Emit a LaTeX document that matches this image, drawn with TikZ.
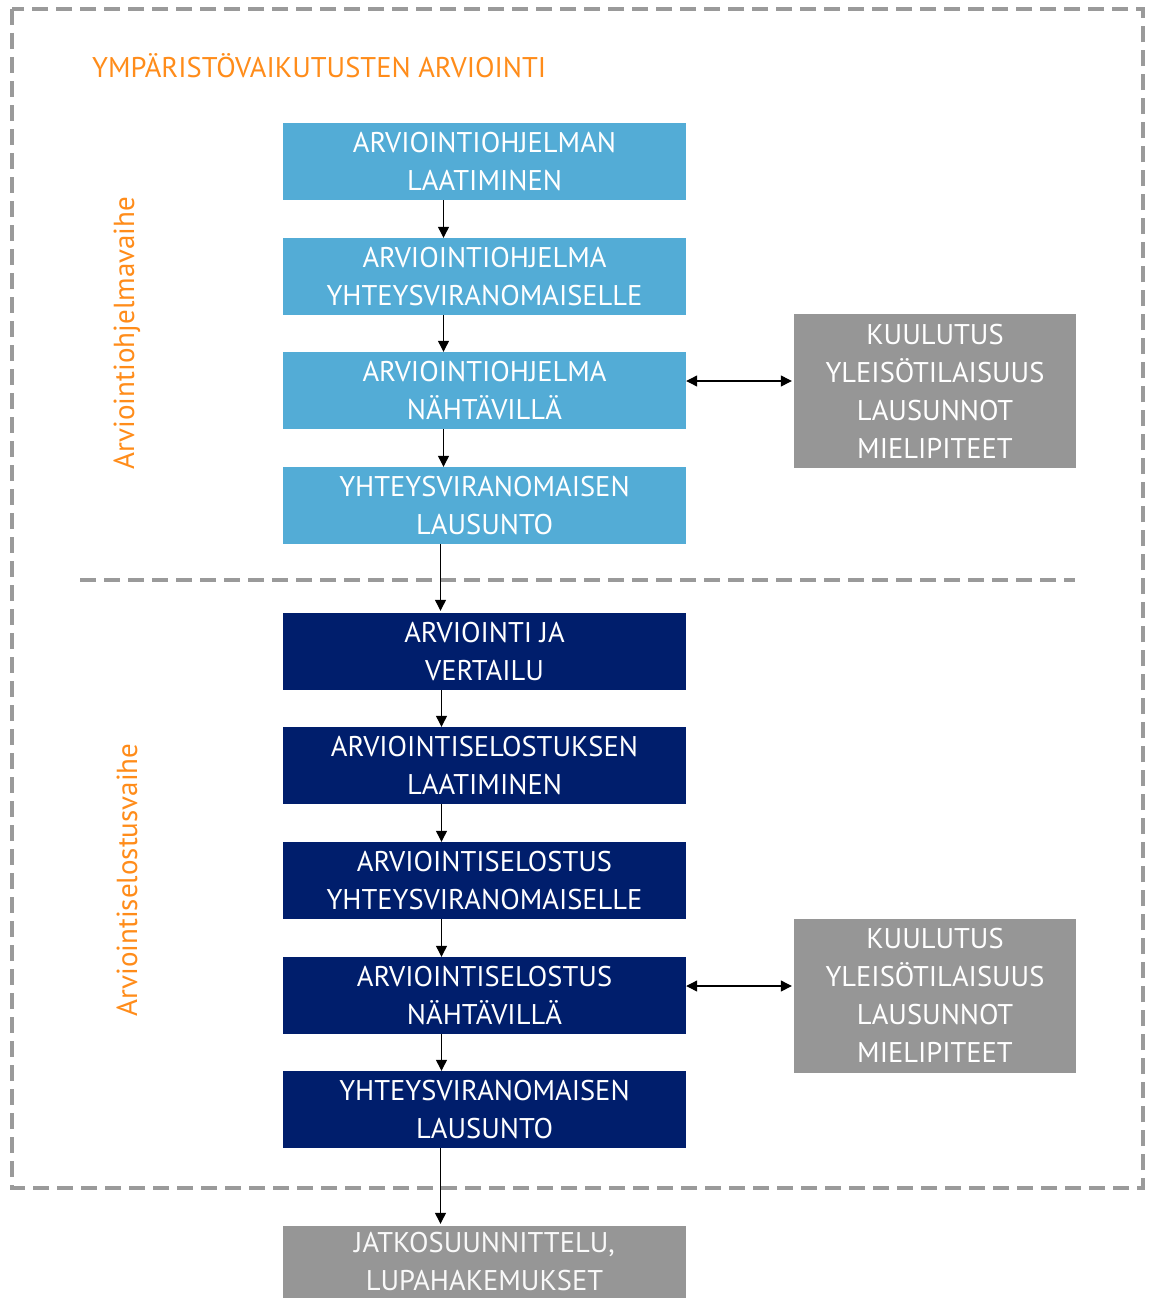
\documentclass[tikz,border=0pt]{standalone}
\usepackage{fontspec}
\setmainfont{PT Sans}
\usetikzlibrary{arrows.meta}
\definecolor{lblue}{HTML}{53ACD6}
\definecolor{navy}{HTML}{001E6C}
\definecolor{gbox}{HTML}{969696}
\definecolor{orng}{HTML}{FF8C1A}
\definecolor{dgray}{HTML}{9A9A9A}
\tikzset{
  box/.style={minimum width=403pt, minimum height=77pt, inner sep=0pt, text=white, align=center, font=\fontsize{28.5}{38}\selectfont},
  bluebox/.style={box, fill=lblue},
  navybox/.style={box, fill=navy},
  graybox/.style={box, fill=gbox, text=white!95!gray},
  sidebox/.style={box, fill=gbox, minimum width=282pt, minimum height=154pt},
  conn/.style={line width=1.2pt, -{Triangle[length=11pt,width=11pt]}},
  dconn/.style={line width=1.2pt, {Triangle[length=11pt,width=11pt]}-{Triangle[length=11pt,width=11pt]}},
  phase/.style={text=orng, rotate=90, font=\fontsize{29}{34}\selectfont},
  dashline/.style={draw=dgray, line width=3.5pt, dash pattern=on 16pt off 8pt}
}
\begin{document}
\begin{tikzpicture}[x=1pt,y=-1pt]
\useasboundingbox (0,0) rectangle (1149,1298);
\draw[dashline] (12,9) rectangle (1143,1188);
\draw[dashline] (80,580) -- (1075,580);

\node[anchor=west, text=orng, font=\fontsize{28.5}{34}\selectfont, inner sep=0pt] (title) at (92,66) {YMPÄRISTÖVAIKUTUSTEN ARVIOINTI};

\node[phase] (p1) at (127,333) {Arviointiohjelmavaihe};
\node[phase] (p2) at (127,880) {Arviointiselostusvaihe};

\node[bluebox] (b1) at (484.5,161.5) {ARVIOINTIOHJELMAN\\LAATIMINEN};
\node[bluebox] (b2) at (484.5,276.5) {ARVIOINTIOHJELMA\\YHTEYSVIRANOMAISELLE};
\node[bluebox] (b3) at (484.5,390.5) {ARVIOINTIOHJELMA\\NÄHTÄVILLÄ};
\node[bluebox] (b4) at (484.5,505.5) {YHTEYSVIRANOMAISEN\\LAUSUNTO};

\node[navybox] (n1) at (484.5,651.5) {ARVIOINTI JA\\VERTAILU};
\node[navybox] (n2) at (484.5,765.5) {ARVIOINTISELOSTUKSEN\\LAATIMINEN};
\node[navybox] (n3) at (484.5,880.5) {ARVIOINTISELOSTUS\\YHTEYSVIRANOMAISELLE};
\node[navybox] (n4) at (484.5,995.5) {ARVIOINTISELOSTUS\\NÄHTÄVILLÄ};
\node[navybox] (n5) at (484.5,1109.5) {YHTEYSVIRANOMAISEN\\LAUSUNTO};

\node[graybox, minimum height=72pt] (g1) at (484.5,1262) {JATKOSUUNNITTELU,\\LUPAHAKEMUKSET};

\node[sidebox] (s1) at (935,391) {KUULUTUS\\YLEISÖTILAISUUS\\LAUSUNNOT\\MIELIPITEET};
\node[sidebox] (s2) at (935,995.5) {KUULUTUS\\YLEISÖTILAISUUS\\LAUSUNNOT\\MIELIPITEET};

\draw[conn] ([xshift=-41pt]b1.south) -- ([xshift=-41pt]b2.north);
\draw[conn] ([xshift=-41pt]b2.south) -- ([xshift=-41pt]b3.north);
\draw[conn] ([xshift=-41pt]b3.south) -- ([xshift=-41pt]b4.north);
\draw[conn] ([xshift=-44pt]b4.south) -- ([xshift=-44pt,yshift=2pt]n1.north);
\draw[conn] ([xshift=-43pt]n1.south) -- ([xshift=-43pt]n2.north);
\draw[conn] ([xshift=-43pt]n2.south) -- ([xshift=-43pt]n3.north);
\draw[conn] ([xshift=-43pt]n3.south) -- ([xshift=-43pt]n4.north);
\draw[conn] ([xshift=-43pt]n4.south) -- ([xshift=-43pt]n5.north);
\draw[conn] ([xshift=-44pt]n5.south) -- ([xshift=-44pt,yshift=2pt]g1.north);

\draw[dconn] ([yshift=9.5pt]b3.east) -- ([xshift=-2pt,yshift=9.5pt]b3.east -| s1.west);
\draw[dconn] ([yshift=9.5pt]n4.east) -- ([xshift=-2pt,yshift=9.5pt]n4.east -| s2.west);
\end{tikzpicture}
\end{document}
